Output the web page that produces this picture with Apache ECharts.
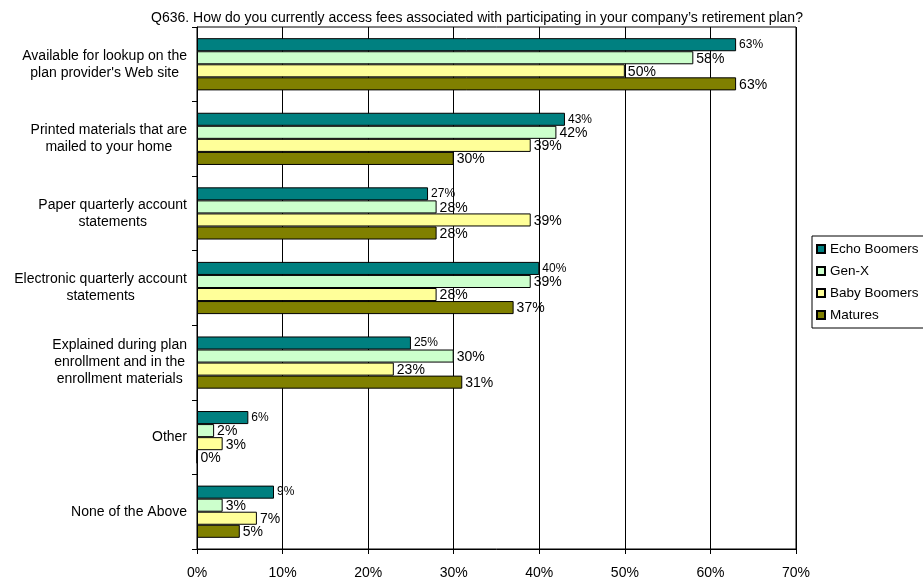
<!DOCTYPE html>
<html>
<head>
<meta charset="utf-8">
<script src="https://cdn.jsdelivr.net/npm/echarts@6/dist/echarts.min.js"></script>
<style>
  html, body { margin: 0; padding: 0; background: #fff; }
  #chart { width: 923px; height: 582px; }
</style>
</head>
<body>
<div id="chart"></div>
<script>
// Survey answers, one entry per access method (top to bottom)
const categories = [
  "Available for lookup on the\nplan provider's Web site",
  "Printed materials that are\nmailed to your home",
  "Paper quarterly account\nstatements",
  "Electronic quarterly account\nstatements",
  "Explained during plan\nenrollment and in the\nenrollment materials",
  "Other",
  "None of the Above"
];

// Share of respondents (%) per generation
const echoBoomers = [63, 43, 27, 40, 25, 6, 9];
const genX        = [58, 42, 28, 39, 30, 2, 3];
const babyBoomers = [50, 39, 39, 28, 23, 3, 7];
const matures     = [63, 30, 28, 37, 31, 0, 5];

const seriesNames = ["Echo Boomers", "Gen-X", "Baby Boomers", "Matures"];
const seriesData = [echoBoomers, genX, babyBoomers, matures];
const seriesColors = ["#008080", "#CCFFCC", "#FFFF99", "#808000"];
const labelSizes = [12, 14, 14, 14];

const titleText = "Q636. How do you currently access fees associated with participating in your company\u2019s retirement plan?";

const FONT = "Liberation Sans, Arial, sans-serif";

const chart = echarts.init(document.getElementById("chart"), null, { renderer: "canvas" });

chart.setOption({
  animation: false,
  backgroundColor: "#ffffff",
  textStyle: { fontFamily: FONT, color: "#000" },
  title: {
    text: titleText,
    left: 472,
    textAlign: "center",
    top: 6,
    textStyle: { fontFamily: FONT, fontSize: 14, fontWeight: "normal", color: "#000" }
  },
  legend: {
    orient: "vertical",
    left: 812,
    top: 236,
    data: seriesNames,
    icon: "rect",
    itemWidth: 8,
    itemHeight: 8,
    itemGap: 8,
    padding: [6, 10, 6, 4],
    borderColor: "#000",
    borderWidth: 1,
    textStyle: { fontFamily: FONT, fontSize: 13.5, color: "#000" }
  },
  grid: {
    left: 197,
    right: 127,
    top: 27,
    bottom: 33,
    show: true,
    borderColor: "#000",
    borderWidth: 1,
    backgroundColor: "transparent"
  },
  xAxis: {
    type: "value",
    min: 0,
    max: 70,
    interval: 10,
    axisLine: { show: true, lineStyle: { color: "#000", width: 1 } },
    axisTick: { show: true, length: 5, lineStyle: { color: "#000" } },
    axisLabel: {
      formatter: "{value}%",
      fontFamily: FONT,
      fontSize: 14,
      color: "#000",
      margin: 17
    },
    splitLine: { show: true, lineStyle: { color: "#000", width: 1 } }
  },
  yAxis: {
    type: "category",
    inverse: true,
    data: categories,
    axisLine: { show: true, lineStyle: { color: "#000", width: 1 } },
    axisTick: { show: true, length: 5, lineStyle: { color: "#000" } },
    axisLabel: {
      margin: 10,
      align: "right",
      formatter: function (value) {
        return value.split("\n").map(function (line) { return "{c|" + line + "}"; }).join("\n");
      },
      rich: {
        c: { align: "center", fontFamily: FONT, fontSize: 14, lineHeight: 17, color: "#000" }
      }
    },
    splitLine: { show: false }
  },
  series: seriesNames.map(function (name, i) {
    return {
      name: name,
      type: "bar",
      data: seriesData[i],
      barGap: "0%",
      barCategoryGap: "30%",
      itemStyle: { color: seriesColors[i], borderColor: "#000", borderWidth: 1 },
      label: {
        show: true,
        position: "right",
        distance: 3,
        formatter: "{c}%",
        fontFamily: FONT,
        fontSize: labelSizes[i],
        color: "#000",
        offset: i === 0 ? [0, 0] : [0, 1]
      }
    };
  })
});
</script>
</body>
</html>
